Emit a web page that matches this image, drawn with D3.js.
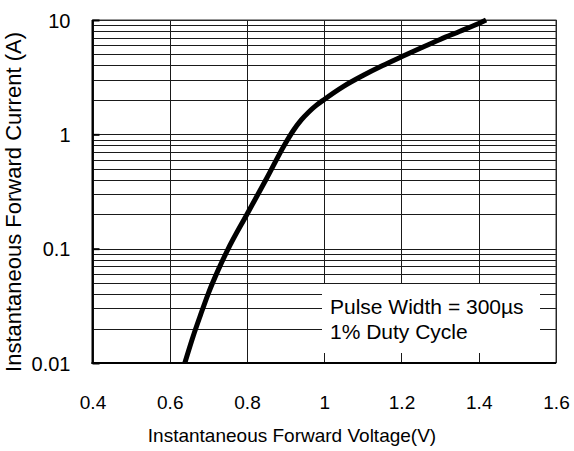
<!DOCTYPE html>
<html>
<head>
<meta charset="utf-8">
<script src="https://cdn.jsdelivr.net/npm/d3@7/dist/d3.min.js"></script>
<style>
  html, body { margin: 0; padding: 0; background: #fff; }
  svg { display: block; }
  text { font-family: Arial, "Liberation Sans", sans-serif; fill: #000; }
</style>
</head>
<body>
<svg id="chart" width="574" height="451"></svg>
<script>
// Data
const voltage = [0.639, 0.66, 0.68, 0.70, 0.725, 0.75, 0.80, 0.85, 0.90, 0.92, 0.94, 0.96, 0.98, 1.0, 1.05, 1.10, 1.15, 1.20, 1.25, 1.30, 1.35, 1.40, 1.419];
const current = [0.01, 0.0169, 0.0265, 0.0407, 0.0646, 0.0977, 0.2, 0.407, 0.84, 1.08, 1.33, 1.57, 1.80, 2.02, 2.63, 3.27, 3.98, 4.77, 5.69, 6.76, 7.94, 9.33, 10];
const xTicks = [0.4, 0.6, 0.8, 1, 1.2, 1.4, 1.6];
const yTicks = [0.01, 0.1, 1, 10];
const yTickLabels = ["0.01", "0.1", "1", "10"];
const noteLines = ["Pulse Width = 300\u00b5s", "1% Duty Cycle"];
const xTitle = "Instantaneous Forward Voltage(V)";
const yTitle = "Instantaneous Forward Current (A)";

const svg = d3.select("#chart");
const pL = 92.5, pR = 556, pT = 20, pB = 363;

const x = d3.scaleLinear().domain([0.4, 1.6]).range([pL, pR]);
const y = d3.scaleLog().domain([0.01, 10]).range([pB, pT]);

// minor + major horizontal grid values
const yGrid = [];
[0.01, 0.1, 1].forEach(d => { for (let k = 1; k <= 9; k++) yGrid.push(+(d * k).toPrecision(3)); });
yGrid.push(10);

const g = svg.append("g");

g.selectAll("line.hg").data(yGrid).enter().append("line")
  .attr("x1", pL).attr("x2", pR)
  .attr("y1", d => Math.round(y(d)) + 0.5).attr("y2", d => Math.round(y(d)) + 0.5)
  .attr("stroke", "#1a1a1a").attr("stroke-width", 1);

g.selectAll("line.vg").data(xTicks).enter().append("line")
  .attr("x1", d => Math.round(x(d)) + 0.5).attr("x2", d => Math.round(x(d)) + 0.5)
  .attr("y1", pT).attr("y2", pB)
  .attr("stroke", "#1a1a1a").attr("stroke-width", 1);

// note box (white, covering grid)
const bx = 322, by = 284, bw = 218, bh = 69;
g.append("rect").attr("x", bx).attr("y", by).attr("width", bw).attr("height", bh).attr("fill", "#fff");
g.selectAll("text.note").data(noteLines).enter().append("text")
  .attr("x", 330).attr("y", (d, i) => 314 + i * 25)
  .attr("font-size", 21).text(d => d);

// frame
g.append("rect").attr("x", pL).attr("y", pT).attr("width", pR - pL).attr("height", pB - pT)
  .attr("fill", "none").attr("stroke", "#333").attr("stroke-width", 1);
g.append("line").attr("x1", pL).attr("x2", pL).attr("y1", pT).attr("y2", pB + 1)
  .attr("stroke", "#000").attr("stroke-width", 2);
g.append("line").attr("x1", pL - 1).attr("x2", pR).attr("y1", pB).attr("y2", pB)
  .attr("stroke", "#000").attr("stroke-width", 2);

// axes (labels via d3 axis)
const xAxis = d3.axisBottom(x).tickValues(xTicks).tickSize(0).tickPadding(0).tickFormat(d3.format("~g"));
const xa = svg.append("g").attr("transform", `translate(0,${pB})`).call(xAxis);
xa.select(".domain").remove();
xa.selectAll("text").attr("font-size", 19).attr("dy", 0).attr("y", 46)
  .style("font-family", "Arial, 'Liberation Sans', sans-serif").attr("fill", "#000");

const yAxis = d3.axisLeft(y).tickValues(yTicks).tickSize(7).tickPadding(0)
  .tickFormat((d, i) => yTickLabels[i]);
const ya = svg.append("g").attr("transform", `translate(${pL},0)`).call(yAxis);
ya.select(".domain").remove();
ya.selectAll(".tick line").attr("x2", 7).attr("stroke", "#000").attr("stroke-width", 2);
ya.selectAll("text").attr("font-size", 20).attr("x", -22).attr("dy", "0.35em")
  .style("font-family", "Arial, 'Liberation Sans', sans-serif").attr("fill", "#000");

// curve
const pts = voltage.map((v, i) => [x(v), y(current[i])]);
svg.append("path").datum(pts)
  .attr("d", d3.line().curve(d3.curveMonotoneX))
  .attr("fill", "none").attr("stroke", "#000").attr("stroke-width", 5)
  .attr("stroke-linecap", "butt");

// titles
svg.append("text").attr("x", 292).attr("y", 442).attr("text-anchor", "middle")
  .attr("font-size", 19).text(xTitle);
svg.append("text").attr("transform", `translate(21,202) rotate(-90)`)
  .attr("text-anchor", "middle").attr("font-size", 22).text(yTitle);
</script>
</body>
</html>
